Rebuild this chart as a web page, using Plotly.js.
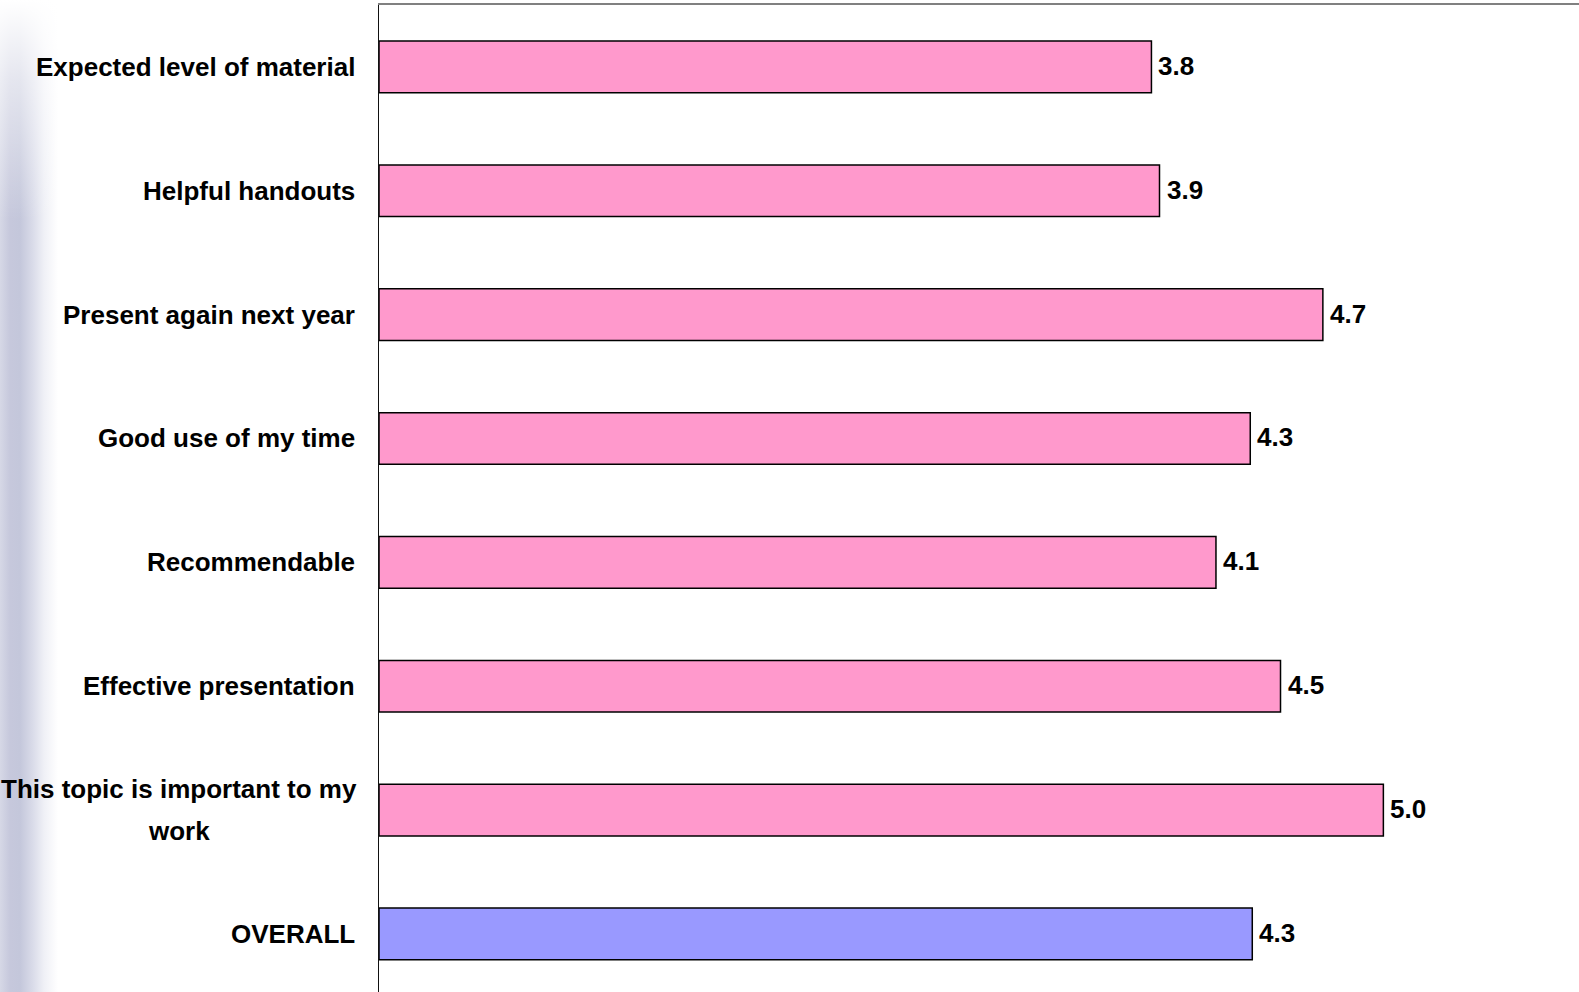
<!DOCTYPE html>
<html>
<head>
<meta charset="utf-8">
<script src="https://cdn.plot.ly/plotly-3.0.1.min.js"></script>
<style>
  html, body { margin: 0; padding: 0; width: 1579px; height: 992px; overflow: hidden; }
  body {
    background:
      linear-gradient(to bottom, rgba(255,255,255,1) 0px, rgba(255,255,255,0.55) 80px, rgba(255,255,255,0) 220px),
      linear-gradient(to right, #d6d8e6 0px, #c6c8dc 10px, #c4c7db 20px, #d8dae8 32px, #eff0f6 44px, #ffffff 58px);
  }
  #chart { width: 1579px; height: 992px; }
</style>
</head>
<body>
<div id="chart"></div>
<script>
// Data
var categories = [
  "Expected level of material",
  "Helpful handouts",
  "Present again next year",
  "Good use of my time",
  "Recommendable",
  "Effective presentation",
  "This topic is important to my<br>work",
  "OVERALL"
];
var values = [3.83, 3.87, 4.68, 4.32, 4.15, 4.47, 4.98, 4.33];
var valueLabels = ["3.8", "3.9", "4.7", "4.3", "4.1", "4.5", "5.0", "4.3"];
var barColors = ["#FF99CC", "#FF99CC", "#FF99CC", "#FF99CC", "#FF99CC", "#FF99CC", "#FF99CC", "#9999FF"];

var labelFont = { family: "'Liberation Sans', Arial, sans-serif", size: 26, color: "#000000" };
var valueFont = { family: "'Liberation Sans Narrow', 'Arial Narrow', 'Liberation Sans', sans-serif", size: 26, color: "#000000" };

var canvas = document.createElement("canvas");
var ctx = canvas.getContext("2d");
ctx.font = "bold 26px 'Liberation Sans', Arial, sans-serif";

var annotations = [];
var labelRightShift = -22;
var lineGap = 42;
categories.forEach(function (cat) {
  var lines = cat.split("<br>");
  var maxW = 0;
  lines.forEach(function (l) { maxW = Math.max(maxW, ctx.measureText(l).width); });
  var n = lines.length;
  lines.forEach(function (l, i) {
    annotations.push({
      xref: "paper", yref: "y",
      x: 0, y: cat,
      xanchor: n > 1 ? "center" : "right",
      yanchor: "middle",
      xshift: n > 1 ? labelRightShift - maxW / 2 : labelRightShift,
      yshift: ((n - 1) / 2 - i) * lineGap,
      text: "<b>" + l + "</b>",
      showarrow: false,
      font: labelFont
    });
  });
});
values.forEach(function (v, i) {
  annotations.push({
    xref: "x", yref: "y",
    x: v, y: categories[i],
    xanchor: "left", yanchor: "middle",
    xshift: 5, yshift: 1,
    text: "<b>" + valueLabels[i] + "</b>",
    showarrow: false,
    font: valueFont
  });
});

var trace = {
  type: "bar",
  orientation: "h",
  x: values,
  y: categories,
  marker: { color: barColors, line: { color: "#000000", width: 1.5 } },
  hoverinfo: "none"
};

var layout = {
  width: 1579,
  height: 992,
  margin: { l: 379, r: 0, t: 5, b: 0, pad: 0 },
  paper_bgcolor: "rgba(0,0,0,0)",
  plot_bgcolor: "rgba(0,0,0,0)",
  showlegend: false,
  bargap: 0.583,
  xaxis: {
    range: [0, 5.95],
    side: "top",
    showline: true, linecolor: "#808080", linewidth: 2,
    showgrid: false, zeroline: false, showticklabels: false, ticks: ""
  },
  yaxis: {
    type: "category",
    range: [7.469, -0.5],
    showline: true, linecolor: "#111111", linewidth: 1.5,
    showgrid: false, zeroline: false, showticklabels: false, ticks: ""
  },
  annotations: annotations
};

Plotly.newPlot("chart", [trace], layout, { displayModeBar: false, staticPlot: true });
</script>
</body>
</html>
